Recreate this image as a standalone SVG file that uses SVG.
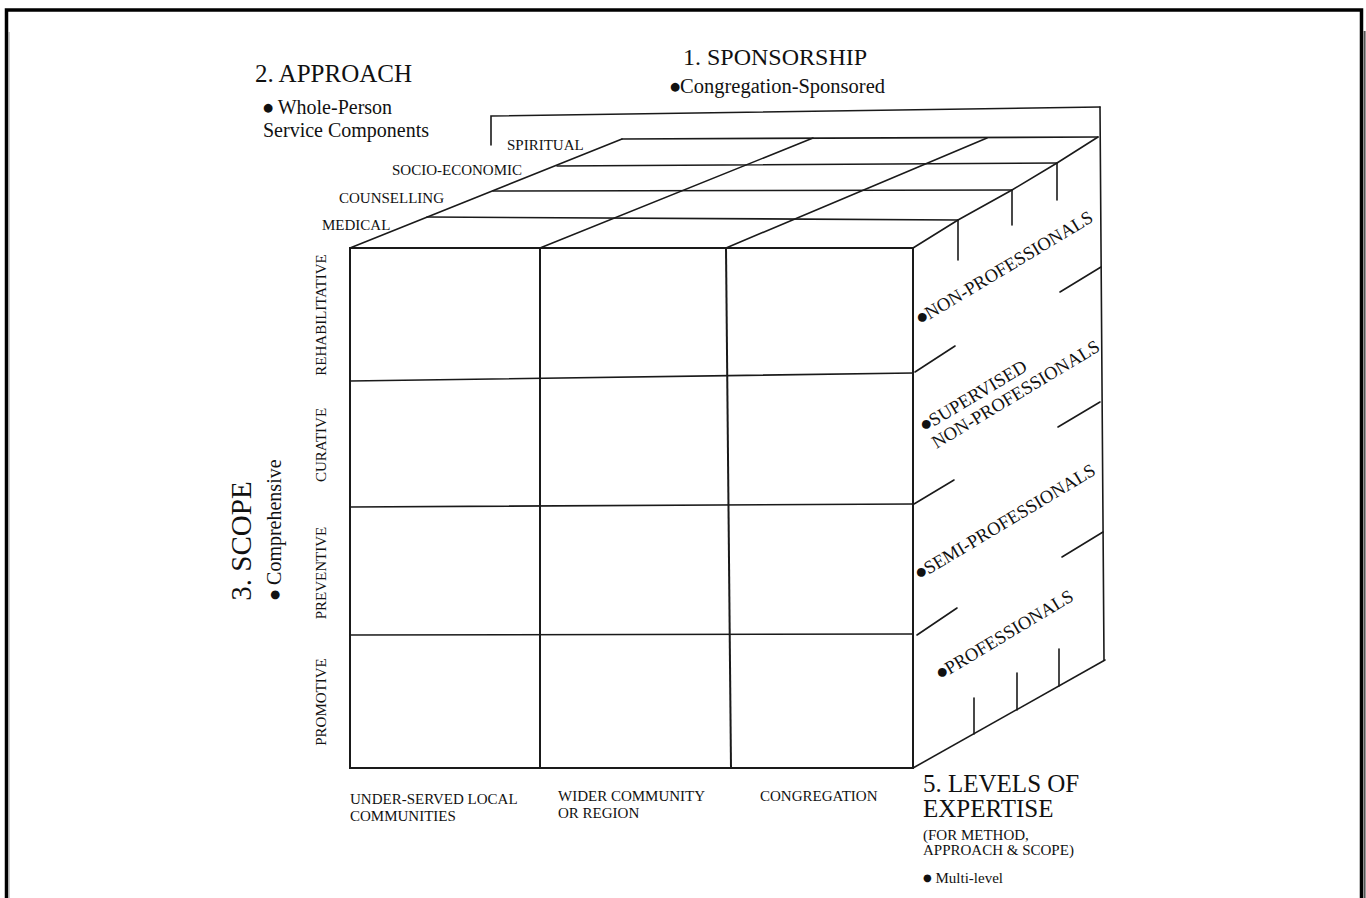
<svg xmlns="http://www.w3.org/2000/svg" width="1366" height="898" viewBox="0 0 1366 898">
<style>
.ln{stroke:#1a1a1a;stroke-width:1.6;fill:none;stroke-linecap:round}
.fr{stroke:#1a1a1a;stroke-width:2;fill:none}
text{font-family:"Liberation Serif","Times New Roman",serif;fill:#111}
.t1{font-size:25px}
.t2{font-size:20px}
.sm{font-size:15px}
.rt{font-size:18.5px}
.b{font-family:"DejaVu Sans","Liberation Sans",sans-serif;font-size:11.5px}
</style>
<rect width="1366" height="898" fill="#fff"/>
<g id="frame">
<path d="M6.5,898 V10 H1361.5 V898" fill="none" stroke="#000" stroke-width="3.5"/>
<line x1="1364.6" y1="31" x2="1364.6" y2="898" stroke="#555" stroke-width="2"/>
<line x1="9" y1="32" x2="9" y2="898" stroke="#999" stroke-width="1"/>
</g>
<g id="cube-front">
<path class="fr" d="M350,248 H913 V768 H350 Z"/>
<line class="fr" x1="540" y1="248" x2="540" y2="768"/>
<line class="fr" x1="726" y1="248" x2="731" y2="768"/>
<line class="ln" x1="350" y1="381" x2="913" y2="373"/>
<line class="ln" x1="350" y1="507" x2="913" y2="504"/>
<line class="ln" x1="350" y1="635" x2="913" y2="634"/>
</g>
<g id="cube-top">
<line class="ln" x1="350" y1="248" x2="622" y2="139"/>
<line class="ln" x1="540" y1="248" x2="813" y2="138"/>
<line class="ln" x1="726" y1="248" x2="987" y2="138"/>
<polyline class="ln" points="913,248 958,220 1012,190 1057,163 1098,137"/>
<line class="ln" x1="427" y1="217" x2="958" y2="220"/>
<line class="ln" x1="493" y1="191" x2="1012" y2="190"/>
<line class="ln" x1="557" y1="166" x2="1057" y2="163"/>
<line class="ln" x1="622" y1="139" x2="1098" y2="137"/>
</g>
<g id="cube-right">
<line class="ln" x1="913" y1="768" x2="1105" y2="660"/>
<line class="ln" x1="1100" y1="107" x2="1104" y2="660"/>
<line class="ln" x1="958" y1="220" x2="958" y2="260"/>
<line class="ln" x1="1012" y1="190" x2="1012" y2="225"/>
<line class="ln" x1="1057" y1="163" x2="1057" y2="200"/>
<line class="ln" x1="974" y1="734" x2="974" y2="698"/>
<line class="ln" x1="1017" y1="710" x2="1017" y2="673"/>
<line class="ln" x1="1059" y1="686" x2="1059" y2="649"/>
<line class="ln" x1="915" y1="372" x2="955" y2="346"/>
<line class="ln" x1="914" y1="504" x2="954" y2="480"/>
<line class="ln" x1="917" y1="635" x2="957" y2="608"/>
<line class="ln" x1="1060" y1="292" x2="1101" y2="267"/>
<line class="ln" x1="1058" y1="427" x2="1100" y2="402"/>
<line class="ln" x1="1062" y1="557" x2="1103" y2="532"/>
</g>
<g id="sponsorship-bracket">
<polyline class="ln" points="491,145 491,116 1100,107"/>
</g>
<g id="sponsorship">
<text class="t1" x="683" y="65" style="font-size:24px">1. SPONSORSHIP</text>
<text class="t2" x="670" y="93" style="font-size:20.5px"><tspan class="b" dy="-3">●</tspan><tspan dy="3">Congregation-Sponsored</tspan></text>
</g>
<g id="approach">
<text class="t1" x="255" y="82">2. APPROACH</text>
<text class="t2" x="263" y="114"><tspan class="b" dy="-3">●</tspan><tspan dy="3"> Whole-Person</tspan></text>
<text class="t2" x="263" y="137">Service Components</text>
<text class="sm" x="507" y="150">SPIRITUAL</text>
<text class="sm" x="392" y="175">SOCIO-ECONOMIC</text>
<text class="sm" x="339" y="203">COUNSELLING</text>
<text class="sm" x="322" y="230">MEDICAL</text>
</g>
<g id="scope">
<text x="251" y="541" text-anchor="middle" transform="rotate(-90 251 541)" style="font-size:29px">3. SCOPE</text>
<text class="t2" x="281" y="600" transform="rotate(-90 281 600)"><tspan class="b" dy="-3">●</tspan><tspan dy="3"> Comprehensive</tspan></text>
<text class="sm" x="326" y="315" text-anchor="middle" transform="rotate(-90 326 315)">REHABILITATIVE</text>
<text class="sm" x="326" y="445" text-anchor="middle" transform="rotate(-90 326 445)">CURATIVE</text>
<text class="sm" x="326" y="573" text-anchor="middle" transform="rotate(-90 326 573)">PREVENTIVE</text>
<text class="sm" x="326" y="702" text-anchor="middle" transform="rotate(-90 326 702)">PROMOTIVE</text>
</g>
<g id="method">
<text class="sm" x="350" y="804">UNDER-SERVED LOCAL</text>
<text class="sm" x="350" y="821">COMMUNITIES</text>
<text class="sm" x="558" y="801">WIDER COMMUNITY</text>
<text class="sm" x="558" y="818">OR REGION</text>
<text class="sm" x="760" y="801">CONGREGATION</text>
</g>
<g id="levels">
<text class="rt" transform="translate(921,325) rotate(-31)"><tspan class="b" dy="-3">●</tspan><tspan dy="3">NON-PROFESSIONALS</tspan></text>
<text class="rt" transform="translate(925,432) rotate(-31)"><tspan class="b" x="0" y="-3">●</tspan><tspan y="0">SUPERVISED</tspan><tspan x="1" y="20.5">NON-PROFESSIONALS</tspan></text>
<text class="rt" transform="translate(920,580) rotate(-31)"><tspan class="b" dy="-3">●</tspan><tspan dy="3">SEMI-PROFESSIONALS</tspan></text>
<text class="rt" transform="translate(941,680) rotate(-31)"><tspan class="b" dy="-3">●</tspan><tspan dy="3">PROFESSIONALS</tspan></text>
<text class="t1" x="923" y="792">5. LEVELS OF</text>
<text class="t1" x="923" y="817">EXPERTISE</text>
<text class="sm" x="923" y="840">(FOR METHOD,</text>
<text class="sm" x="923" y="855">APPROACH &amp; SCOPE)</text>
<text class="sm" x="923" y="883"><tspan class="b" style="font-size:10px" dy="-2.5">●</tspan><tspan dy="2.5"> Multi-level</tspan></text>
</g>
</svg>
